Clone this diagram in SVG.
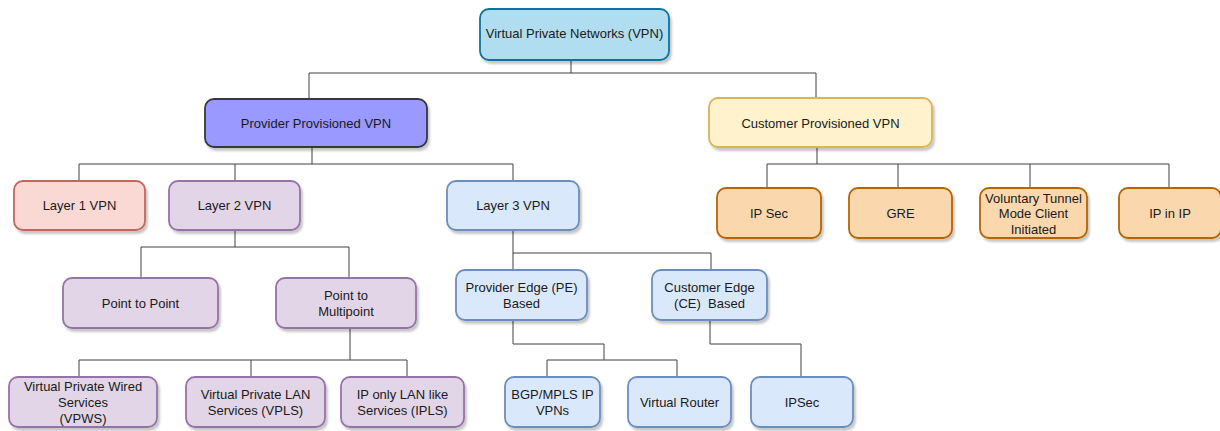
<svg xmlns="http://www.w3.org/2000/svg" width="1220" height="431" viewBox="0 0 1220 431">
<defs>
<filter id="sh" x="-10%" y="-10%" width="130%" height="140%">
<feDropShadow dx="2" dy="3" stdDeviation="1.2" flood-color="#000" flood-opacity="0.22"/>
</filter>
</defs>
<style>
rect{stroke-width:1.8;filter:url(#sh)}
text{font-family:"Liberation Sans",Arial,sans-serif;font-size:13px;fill:#1a1a1a;text-anchor:middle;dominant-baseline:central}
.blue0{fill:#b1ddf0;stroke:#10739e}
.violet{fill:#9999ff;stroke:#36393d}
.yellow{fill:#fff2cc;stroke:#d6b656}
.red{fill:#fad9d5;stroke:#c0675c}
.purple{fill:#e1d5e7;stroke:#9673a6}
.blue{fill:#dae8fc;stroke:#6c8ebf}
.orange{fill:#fad7ac;stroke:#b46504}
#connectors path{fill:none;stroke:#404040;stroke-width:1}
</style>
<rect width="1220" height="431" fill="#fff" style="filter:none;stroke:none"/>
<g id="connectors">
<path d="M571,60 V73 M309,73 H816 M309,73 V99 M816,73 V98"/>
<path d="M312,147 V164 M79,164 H513 M79,164 V181 M235,164 V181 M513,164 V181"/>
<path d="M817,147 V164 M767,164 H1169 M767,164 V188 M898,164 V188 M1030,164 V188 M1169,164 V188"/>
<path d="M235,230 V247 M141,247 H349 M141,247 V278 M349,247 V278"/>
<path d="M513,230 V253 H711 M513,253 V270 M711,253 V270"/>
<path d="M350,328 V360 M79,360 H407 M79,360 V377 M251,360 V377 M407,360 V377"/>
<path d="M513,320 V344 H604 V360 M547,360 H677 M547,360 V377 M677,360 V377"/>
<path d="M710,320 V344 H801 V377"/>
</g>
<g id="n-root"><rect class="blue0" x="480" y="9" width="189" height="51" rx="9"/><text x="574.5" y="33.5">Virtual Private Networks (VPN)</text></g>
<g id="n-pp"><rect class="violet" x="205" y="99" width="222" height="48" rx="9"/><text x="316" y="123">Provider Provisioned VPN</text></g>
<g id="n-cp"><rect class="yellow" x="709" y="98" width="223" height="49" rx="9"/><text x="820.5" y="123">Customer Provisioned VPN</text></g>
<g id="n-l1"><rect class="red" x="14" y="181" width="131" height="49" rx="9"/><text x="79.5" y="205.5">Layer 1 VPN</text></g>
<g id="n-l2"><rect class="purple" x="169" y="181" width="131" height="49" rx="9"/><text x="234.5" y="205.5">Layer 2 VPN</text></g>
<g id="n-l3"><rect class="blue" x="447" y="181" width="132" height="49" rx="9"/><text x="513" y="205.5">Layer 3 VPN</text></g>
<g id="n-ipsec"><rect class="orange" x="717" y="188" width="104" height="50" rx="9"/><text x="769" y="213">IP Sec</text></g>
<g id="n-gre"><rect class="orange" x="849" y="188" width="103" height="50" rx="9"/><text x="900.5" y="213">GRE</text></g>
<g id="n-vol"><rect class="orange" x="980" y="188" width="107" height="50" rx="9"/><text x="1033.5" y="198">Voluntary Tunnel</text><text x="1033.5" y="213.5">Mode Client</text><text x="1033.5" y="229">Initiated</text></g>
<g id="n-ipinip"><rect class="orange" x="1119" y="188" width="102" height="50" rx="9"/><text x="1170" y="213">IP in IP</text></g>
<g id="n-p2p"><rect class="purple" x="63" y="278" width="155" height="50" rx="9"/><text x="140.5" y="303">Point to Point</text></g>
<g id="n-p2m"><rect class="purple" x="276" y="278" width="140" height="50" rx="9"/><text x="346" y="295">Point to</text><text x="346" y="311">Multipoint</text></g>
<g id="n-pe"><rect class="blue" x="456" y="270" width="131" height="50" rx="9"/><text x="521.5" y="287">Provider Edge (PE)</text><text x="521.5" y="303">Based</text></g>
<g id="n-ce"><rect class="blue" x="652" y="270" width="115" height="50" rx="9"/><text x="709.5" y="287">Customer Edge</text><text x="709.5" y="303" xml:space="preserve">(CE)  Based</text></g>
<g id="n-vpws"><rect class="purple" x="9" y="377" width="148" height="50" rx="9"/><text x="83" y="386">Virtual Private Wired</text><text x="83" y="402">Services</text><text x="83" y="418">(VPWS)</text></g>
<g id="n-vpls"><rect class="purple" x="186" y="377" width="139" height="50" rx="9"/><text x="255.5" y="394">Virtual Private LAN</text><text x="255.5" y="410">Services (VPLS)</text></g>
<g id="n-ipls"><rect class="purple" x="341" y="377" width="123" height="50" rx="9"/><text x="402.5" y="394">IP only LAN like</text><text x="402.5" y="410">Services (IPLS)</text></g>
<g id="n-bgp"><rect class="blue" x="505" y="377" width="95" height="50" rx="9"/><text x="552.5" y="394">BGP/MPLS IP</text><text x="552.5" y="410">VPNs</text></g>
<g id="n-vr"><rect class="blue" x="628" y="377" width="103" height="50" rx="9"/><text x="679.5" y="402">Virtual Router</text></g>
<g id="n-ipsec2"><rect class="blue" x="751" y="377" width="102" height="50" rx="9"/><text x="802" y="402">IPSec</text></g>
</svg>
